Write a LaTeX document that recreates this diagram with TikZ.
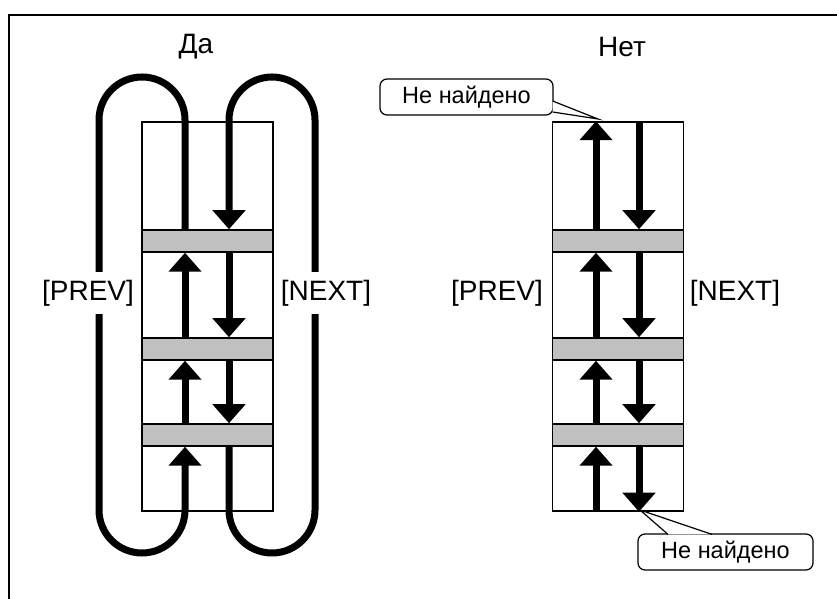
\documentclass[tikz,border=0pt]{standalone}
\usepackage{fontspec}
\setmainfont{Liberation Sans}
\usetikzlibrary{positioning,arrows.meta,calc}
\definecolor{bargray}{HTML}{C0C0C0}

\begin{document}
\begin{tikzpicture}[x=1pt, y=1pt,
  listbox/.style={draw, line width=1.5pt, minimum width=131pt, minimum height=389pt, inner sep=0pt},
  bar/.style={draw, fill=bargray, line width=1.5pt, minimum width=131pt, minimum height=22pt, inner sep=0pt},
  linkarrow/.style={line width=7pt, -{Triangle[length=19pt,width=32pt]}},
  lbl/.style={font=\fontsize{28}{32}\selectfont, fill=white, inner xsep=2pt, inner ysep=8pt},
  note/.style={draw, line width=1.2pt, rounded corners=7pt, fill=white, minimum width=173pt, minimum height=36pt, inner sep=0pt, font=\fontsize{23.5}{26}\selectfont}]
\useasboundingbox (0,0) rectangle (837,599);
\draw[line width=2.5pt] (9,0) -- (9,584) -- (837,584);

\node[font=\fontsize{28}{32}\selectfont] (yes) at (196,552) {Да};
\node[font=\fontsize{28}{32}\selectfont] (no) at (622,552) {Нет};

% left list, links wrap round
\node[listbox] (la) at (207.5,282.5) {};
\node[bar] (la1) at (207.5,358) {};
\node[bar] (la2) at (207.5,250) {};
\node[bar] (la3) at (207.5,164) {};
\coordinate (lp) at (185,0);
\coordinate (ln) at (229,0);
\draw[linkarrow] (lp |- la1.north) -- (185,479) arc[start angle=0, end angle=180, radius=43] -- (99,89) arc[start angle=180, end angle=360, radius=43] -- (lp |- la3.south);
\draw[linkarrow] (ln |- la3.south) -- (229,89) arc[start angle=180, end angle=360, radius=43] -- (315,479) arc[start angle=0, end angle=180, radius=43] -- (ln |- la1.north);
\draw[linkarrow] (lp |- la2.north) -- (lp |- la1.south);
\draw[linkarrow] (lp |- la3.north) -- (lp |- la2.south);
\draw[linkarrow] (ln |- la1.south) -- (ln |- la2.north);
\draw[linkarrow] (ln |- la2.south) -- (ln |- la3.north);
\node[lbl] (lprev) at (88,306) {[PREV]};
\node[lbl] (lnext) at (326,306) {[NEXT]};

% right list, links stop at the ends
\node[listbox] (ra) at (618,282.5) {};
\node[bar] (ra1) at (618,358) {};
\node[bar] (ra2) at (618,250) {};
\node[bar] (ra3) at (618,164) {};
\coordinate (rp) at (596,0);
\coordinate (rn) at (639,0);
\draw[linkarrow] (rp |- ra1.north) -- (rp |- ra.north);
\draw[linkarrow] (rp |- ra2.north) -- (rp |- ra1.south);
\draw[linkarrow] (rp |- ra3.north) -- (rp |- ra2.south);
\draw[linkarrow] (rp |- ra.south) -- (rp |- ra3.south);
\draw[linkarrow] (rn |- ra.north) -- (rn |- ra1.north);
\draw[linkarrow] (rn |- ra1.south) -- (rn |- ra2.north);
\draw[linkarrow] (rn |- ra2.south) -- (rn |- ra3.north);
\draw[linkarrow] (rn |- ra3.south) -- (rn |- ra.south);
\node[lbl] (rprev) at (497,306) {[PREV]};
\node[lbl] (rnext) at (735,306) {[NEXT]};

% callouts
\node[note] (top) at (466.5,502) {Не найдено};
\coordinate (toptip) at (598,480);
\draw[line width=1.2pt, fill=white] ($(top.east)+(-1,-4)$) -- (toptip) -- ($(top.east)+(-1,-15)$);
\node[note, minimum width=175pt] (bot) at (725.5,47) {Не найдено};
\coordinate (bottip) at (640,89);
\draw[line width=1.2pt, fill=white] ($(bot.north)+(-57.5,-1)$) -- (bottip) -- ($(bot.north)+(-13.5,-1)$);
\end{tikzpicture}
\end{document}
